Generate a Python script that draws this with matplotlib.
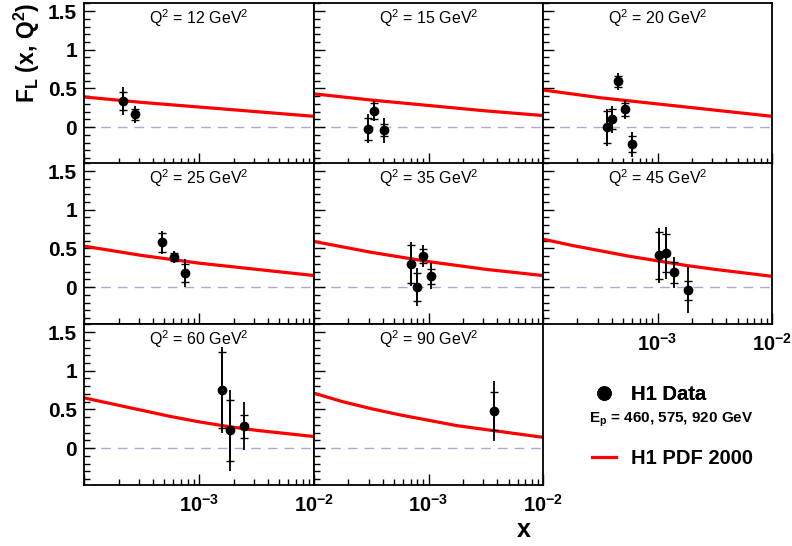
import numpy as np
import matplotlib
matplotlib.use('Agg')
import matplotlib.pyplot as plt
from matplotlib.ticker import FixedLocator, MultipleLocator, NullFormatter
from matplotlib.lines import Line2D

plt.rcParams['font.family'] = ['Liberation Sans', 'DejaVu Sans']
plt.rcParams['mathtext.fontset'] = 'custom'
plt.rcParams['mathtext.rm'] = 'Liberation Sans'
plt.rcParams['mathtext.it'] = 'Liberation Sans'
plt.rcParams['mathtext.bf'] = 'Liberation Sans:bold'

# Q2 bins
q2_bins = [12, 15, 20, 25, 35, 45, 60, 90]

# H1 PDF 2000 curves at fixed x values
curve_x = [1e-4, 1.78e-4, 3.16e-4, 5.62e-4, 1e-3, 1.78e-3, 3.16e-3, 5.62e-3, 1e-2]
curve_12 = [0.39, 0.355, 0.32, 0.29, 0.26, 0.23, 0.20, 0.17, 0.14]
curve_15 = [0.43, 0.39, 0.35, 0.315, 0.28, 0.245, 0.21, 0.18, 0.15]
curve_20 = [0.48, 0.43, 0.38, 0.34, 0.30, 0.26, 0.22, 0.18, 0.14]
curve_25 = [0.53, 0.47, 0.41, 0.36, 0.31, 0.27, 0.23, 0.19, 0.15]
curve_35 = [0.59, 0.52, 0.45, 0.39, 0.33, 0.28, 0.23, 0.19, 0.15]
curve_45 = [0.62, 0.54, 0.47, 0.40, 0.34, 0.28, 0.23, 0.185, 0.14]
curve_60 = [0.65, 0.57, 0.49, 0.41, 0.34, 0.28, 0.23, 0.19, 0.15]
curve_90 = [0.71, 0.60, 0.51, 0.43, 0.36, 0.29, 0.24, 0.19, 0.14]
curves = [curve_12, curve_15, curve_20, curve_25, curve_35, curve_45, curve_60, curve_90]

# H1 data: x, F_L, stat error, total error
x_12 = [2.2e-4, 2.8e-4]
fl_12 = [0.34, 0.165]
stat_12 = [0.12, 0.07]
tot_12 = [0.18, 0.11]

x_15 = [2.98e-4, 3.33e-4, 4.07e-4]
fl_15 = [-0.02, 0.21, -0.04]
stat_15 = [0.14, 0.10, 0.08]
tot_15 = [0.19, 0.13, 0.16]

x_20 = [3.6e-4, 4.03e-4, 4.5e-4, 5.2e-4, 5.95e-4]
fl_20 = [0.0, 0.10, 0.59, 0.23, -0.22]
stat_20 = [0.21, 0.13, 0.07, 0.08, 0.10]
tot_20 = [0.24, 0.17, 0.11, 0.12, 0.16]

x_25 = [4.77e-4, 6.07e-4, 7.5e-4]
fl_25 = [0.58, 0.39, 0.185]
stat_25 = [0.12, 0.05, 0.12]
tot_25 = [0.15, 0.08, 0.18]

x_35 = [7.1e-4, 8.0e-4, 9.0e-4, 1.05e-3]
fl_35 = [0.30, 0.0, 0.40, 0.14]
stat_35 = [0.24, 0.18, 0.09, 0.10]
tot_35 = [0.28, 0.25, 0.14, 0.17]

x_45 = [1.03e-3, 1.19e-3, 1.38e-3, 1.85e-3]
fl_45 = [0.41, 0.44, 0.19, -0.04]
stat_45 = [0.30, 0.25, 0.14, 0.12]
tot_45 = [0.36, 0.34, 0.20, 0.30]

x_60 = [1.6e-3, 1.86e-3, 2.48e-3]
fl_60 = [0.75, 0.23, 0.28]
stat_60 = [0.49, 0.39, 0.15]
tot_60 = [0.56, 0.52, 0.31]

x_90 = [3.7e-3]
fl_90 = [0.48]
stat_90 = [0.24]
tot_90 = [0.39]

data = [(x_12, fl_12, stat_12, tot_12), (x_15, fl_15, stat_15, tot_15),
        (x_20, fl_20, stat_20, tot_20), (x_25, fl_25, stat_25, tot_25),
        (x_35, fl_35, stat_35, tot_35), (x_45, fl_45, stat_45, tot_45),
        (x_60, fl_60, stat_60, tot_60), (x_90, fl_90, stat_90, tot_90)]

W, H = 792, 546
fig = plt.figure(figsize=(W / 100, H / 100), dpi=100)

col_left = [84, 314, 543]
col_w = [230, 229, 229]
row_top = [3.3, 163.3, 324.3]
row_h = 161

for i, q2 in enumerate(q2_bins):
    r, c = divmod(i, 3)
    ax = fig.add_axes([col_left[c] / W, 1 - (row_top[r] + row_h) / H, col_w[c] / W, row_h / H])
    ax.set_xscale('log')
    ax.set_xlim(1e-4, 1e-2)
    ax.set_ylim(-0.48, 1.6)

    ax.axhline(0, color='#acacd2', lw=1.0, dashes=(7, 5), zorder=1)
    ax.plot(curve_x, curves[i], color='red', lw=2.3, zorder=2)

    xs, fl, st, tot = data[i]
    ax.errorbar(xs, fl, yerr=tot, fmt='none', ecolor='black', elinewidth=1.3, capsize=0, zorder=3)
    ax.errorbar(xs, fl, yerr=st, fmt='o', color='black', ms=6, elinewidth=1.3,
                capsize=3, capthick=1.0, zorder=4)

    ax.text(0.5, 0.91, r'Q$^2$ = %d GeV$^2$' % q2, transform=ax.transAxes,
            ha='center', va='center', fontsize=11.5)

    for s in ax.spines.values():
        s.set_linewidth(1.3)
    ax.tick_params(which='both', direction='in', top=False, right=False)
    ax.tick_params(which='major', length=8, width=1.0)
    ax.tick_params(which='minor', length=4, width=1.0)

    ax.xaxis.set_major_locator(FixedLocator([1e-4, 1e-3, 1e-2]))
    ax.xaxis.set_minor_locator(FixedLocator([m * 10.0 ** e for e in (-4, -3) for m in range(2, 10)]))
    ax.xaxis.set_minor_formatter(NullFormatter())
    ax.yaxis.set_major_locator(FixedLocator([0, 0.5, 1, 1.5]))
    ax.yaxis.set_minor_locator(MultipleLocator(0.1))

    show_x = (r == 2) or (r == 1 and c == 2)
    if show_x:
        ax.set_xticks([1e-4, 1e-3, 1e-2])
        ax.set_xticklabels(['', r'$\mathbf{10^{-3}}$', r'$\mathbf{10^{-2}}$'])
        ax.tick_params(axis='x', labelsize=14.5, pad=6)
    else:
        ax.set_xticklabels([])
    if c == 0:
        ax.set_yticklabels(['0', '0.5', '1', '1.5'], fontsize=15, fontweight='bold')
        ax.tick_params(axis='y', pad=5)
    else:
        ax.set_yticklabels([])

fig.text(27 / W, 1 - 3 / H, r'F$_\mathbf{L}$ (x, Q$^\mathbf{2}$)', rotation=90,
         ha='center', va='top', fontsize=16.5, fontweight='bold')
fig.text(524 / W, 1 - 530 / H, 'x', ha='center', va='center', fontsize=18, fontweight='bold')

dot = Line2D([], [], marker='o', color='black', ls='none', ms=9.5)
red = Line2D([], [], color='red', lw=2.3)
leg_prop = {'family': 'Liberation Sans', 'weight': 'bold', 'size': 14.5}
leg1 = fig.legend([dot], ['H1 Data'], loc='center left', bbox_to_anchor=(574 / W, 1 - 395 / H),
                  frameon=False, handlelength=1.2, handletextpad=0.75, prop=leg_prop)
fig.add_artist(leg1)
fig.legend([red], ['H1 PDF 2000'], loc='center left', bbox_to_anchor=(574 / W, 1 - 459 / H),
           frameon=False, handlelength=1.2, handletextpad=0.75, prop=leg_prop)
fig.text(671 / W, 1 - 420 / H, r'E$_\mathbf{p}$ = 460, 575, 920 GeV', ha='center', va='center',
         fontsize=11, fontweight='bold')

fig.savefig('out.png', dpi=100)
